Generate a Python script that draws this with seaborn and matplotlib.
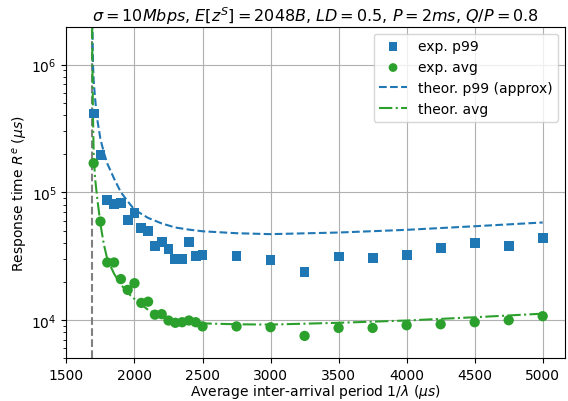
import matplotlib
matplotlib.use("Agg")
import matplotlib.pyplot as plt
import seaborn as sns
import pandas as pd

# experimental points
x_exp = [1700, 1750, 1800, 1850, 1900, 1950, 2000, 2050, 2100, 2150, 2200, 2250,
         2300, 2350, 2400, 2450, 2500,
         2750, 3000, 3250, 3500, 3750, 4000, 4250, 4500, 4750, 5000]
p99_exp = [4.14e5, 1.97e5, 8.66e4, 8.05e4, 8.2e4, 6.04e4, 6.86e4, 5.23e4, 4.99e4,
           3.8e4, 4.09e4, 3.59e4, 3.0e4, 3.0e4, 4.08e4, 3.18e4, 3.22e4,
           3.15e4, 2.95e4, 2.37e4, 3.14e4, 3.05e4, 3.22e4, 3.65e4, 3.98e4, 3.77e4, 4.37e4]
avg_exp = [1.69e5, 5.9e4, 2.82e4, 2.82e4, 2.09e4, 1.72e4, 1.94e4, 1.36e4, 1.39e4,
           1.10e4, 1.11e4, 9.9e3, 9.5e3, 9.6e3, 9.9e3, 9.6e3, 8.9e3,
           8.9e3, 8.77e3, 7.5e3, 8.66e3, 8.66e3, 9.09e3, 9.25e3, 9.6e3, 9.95e3, 1.07e4]

# theoretical curves
x_th = [1688, 1690, 1695, 1700, 1710, 1725, 1750, 1775, 1800, 1850, 1900, 1950,
        2000, 2100, 2200, 2300, 2400, 2500, 2750, 3000, 3500, 4000, 4500, 5000]
p99_th = [4e6, 2.5e6, 1.0e6, 7.5e5, 5.5e5, 3.8e5, 2.6e5, 2.05e5, 1.68e5, 1.28e5, 1.0e5,
          8.5e4, 7.3e4, 6.3e4, 5.7e4, 5.3e4, 5.1e4, 4.95e4, 4.78e4, 4.7e4, 4.84e4,
          5.08e4, 5.42e4, 5.8e4]
avg_th = [3e6, 1.2e6, 4e5, 2.0e5, 1.3e5, 9.2e4, 5.6e4, 3.9e4, 3.0e4, 2.3e4, 1.9e4,
          1.63e4, 1.46e4, 1.2e4, 1.05e4, 9.9e3, 9.6e3, 9.4e3, 9.25e3, 9.2e3, 9.5e3,
          9.9e3, 1.05e4, 1.12e4]
x_limit = 1687

title = (r"$\sigma = 10Mbps$, $E[z^S] = 2048B$, $LD = 0.5$, $P = 2ms$, $Q/P = 0.8$")

df_exp = pd.DataFrame({"x": x_exp, "p99": p99_exp, "avg": avg_exp})
df_th = pd.DataFrame({"x": x_th, "p99": p99_th, "avg": avg_th})

blue = "#1f77b4"
green = "#2ca02c"

fig, ax = plt.subplots(figsize=(5.68, 4.02), dpi=100)
fig.subplots_adjust(left=0.117, right=0.995, top=0.931, bottom=0.106)

ax.axvline(x_limit, color="gray", ls="--", lw=1.5, zorder=1)
sns.lineplot(data=df_th, x="x", y="p99", ax=ax, color=blue, ls="--", lw=1.5,
             label="theor. p99 (approx)", sort=False, estimator=None, zorder=2)
sns.lineplot(data=df_th, x="x", y="avg", ax=ax, color=green, ls="-.", lw=1.5,
             label="theor. avg", sort=False, estimator=None, zorder=2)
sns.scatterplot(data=df_exp, x="x", y="p99", ax=ax, color=blue, marker="s", s=50,
                edgecolor="none", label="exp. p99", zorder=3)
sns.scatterplot(data=df_exp, x="x", y="avg", ax=ax, color=green, marker="o", s=55,
                edgecolor="none", label="exp. avg", zorder=3)

ax.set_yscale("log")
ax.set_xlim(1500, 5165)
ax.set_ylim(5.0e3, 1.98e6)
ax.set_xticks([1500, 2000, 2500, 3000, 3500, 4000, 4500, 5000])
ax.grid(True, which="major", color="#b0b0b0", lw=0.8)
ax.set_axisbelow(True)

ax.set_xlabel(r"Average inter-arrival period $1/\lambda$ ($\mu s$)", labelpad=0)
ax.set_ylabel(r"Response time $R^e$ ($\mu s$)", labelpad=1)
ax.set_title(title, fontsize=11.5, pad=4)

handles, labels = ax.get_legend_handles_labels()
order = ["exp. p99", "exp. avg", "theor. p99 (approx)", "theor. avg"]
hmap = dict(zip(labels, handles))
ax.legend([hmap[l] for l in order], order, loc="upper right", markerscale=0.85)

fig.savefig("out.png", dpi=100)
